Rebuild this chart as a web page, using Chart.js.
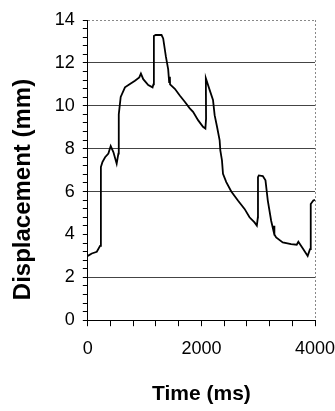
<!DOCTYPE html>
<html lang="en">
<head>
    <meta charset="UTF-8">
    <title>Displacement vs Time</title>
    <script src="https://cdn.jsdelivr.net/npm/chart.js"></script>
    <style>
        html, body {
            margin: 0;
            padding: 0;
            background: #fff;
        }
        #wrap {
            width: 335px;
            height: 411px;
        }
    </style>
</head>
<body>
    <div id="wrap">
        <canvas id="dispChart" width="335" height="411"></canvas>
    </div>

    <script>
        // Trace (ms, mm)
        const timeMs = [0, 70, 158, 216, 228, 232, 257, 304, 362, 403,
            450, 508, 538, 545, 579, 654, 742, 830, 906, 935,
            976, 1064, 1140, 1155, 1163, 1193, 1298, 1327, 1374, 1415,
            1432, 1445, 1448, 1532, 1619, 1707, 1795, 1853, 1941, 2028,
            2070, 2082, 2078, 2146, 2204, 2233, 2275, 2321, 2333, 2362,
            2380, 2438, 2526, 2643, 2760, 2847, 2935, 2976, 2994, 2996,
            3011, 3081, 3128, 3169, 3228, 3269, 3280, 3285, 3316, 3432,
            3579, 3678, 3707, 3783, 3871, 3912, 3925, 3970, 4000];
        const displacementMm = [3.0, 3.11, 3.19, 3.47, 3.86, 7.14, 7.37, 7.6, 7.77, 8.12,
            7.84, 7.3, 7.77, 9.6, 10.41, 10.86, 11.02, 11.17, 11.32, 11.5,
            11.24, 10.97, 10.86, 11.0, 13.25, 13.3, 13.3, 13.14, 12.3, 11.7,
            11.1, 11.35, 11.0, 10.79, 10.48, 10.19, 9.88, 9.72, 9.33, 9.02,
            8.94, 9.4, 11.28, 10.73, 10.27, 9.56, 9.02, 8.39, 7.92, 7.45,
            6.83, 6.44, 6.0, 5.58, 5.19, 4.8, 4.56, 4.41, 4.8, 6.67,
            6.75, 6.72, 6.52, 5.58, 4.64, 4.17, 4.4, 4.0, 3.86, 3.63,
            3.55, 3.52, 3.66, 3.36, 3.0, 3.31, 5.42, 5.58, 5.61];

        // Axis ticks
        const xLabelTicks = [0, 2000, 4000];
        const yLabelTicks = [0, 2, 4, 6, 8, 10, 12, 14];
        const yGridLines = [2, 6, 8, 10, 12];   // the 4 mm line is absent in the original

        const fontFamily = 'Arial, "Liberation Sans", sans-serif';
        const near = (a, b) => Math.abs(a - b) < 1e-6;

        const points = timeMs.map((t, i) => ({ x: t, y: displacementMm[i] }));

        const ctx = document.getElementById('dispChart').getContext('2d');
        new Chart(ctx, {
            type: 'scatter',
            data: {
                datasets: [{
                    data: points,
                    showLine: true,
                    borderColor: '#000',
                    borderWidth: 1.8,
                    pointRadius: 0,
                    tension: 0,
                    fill: false
                }]
            },
            options: {
                responsive: false,
                animation: false,
                layout: {
                    padding: { top: 20, right: 0, bottom: 2, left: 0 }
                },
                plugins: {
                    legend: { display: false },
                    tooltip: { enabled: false }
                },
                scales: {
                    x: {
                        type: 'linear',
                        min: 0,
                        max: 4000,
                        // only leave room for half of "4000", not the tick padding too
                        afterFit: scale => { scale.paddingRight = 20; },
                        ticks: {
                            stepSize: 400,
                            autoSkip: false,
                            maxRotation: 0,
                            padding: 12,
                            color: '#000',
                            font: { family: fontFamily, size: 18 },
                            callback: v => xLabelTicks.some(t => near(t, v)) ? String(v) : ''
                        },
                        grid: {
                            color: c => near(c.tick.value, 4000) ? '#888' : 'rgba(0,0,0,0)',
                            tickColor: '#000',
                            tickLength: 6,
                            lineWidth: 1
                        },
                        border: {
                            color: '#000',
                            width: 1,
                            dash: c => near(c.tick && c.tick.value, 4000) ? [2, 2] : []
                        },
                        title: {
                            display: true,
                            text: 'Time (ms)',
                            color: '#000',
                            font: { family: fontFamily, size: 21, weight: 'bold' },
                            padding: { top: 10, bottom: 2 }
                        }
                    },
                    y: {
                        type: 'linear',
                        min: 0,
                        max: 14,
                        ticks: {
                            stepSize: 0.4,
                            autoSkip: false,
                            padding: 8,
                            color: '#000',
                            font: { family: fontFamily, size: 18 },
                            callback: v => yLabelTicks.some(t => near(t, v)) ? String(Math.round(v)) : ''
                        },
                        grid: {
                            color: c => {
                                const v = c.tick.value;
                                if (near(v, 14)) return '#888';
                                return yGridLines.some(g => near(g, v)) ? '#444' : 'rgba(0,0,0,0)';
                            },
                            tickColor: '#000',
                            tickLength: 5,
                            lineWidth: 1
                        },
                        border: {
                            color: '#000',
                            width: 1,
                            dash: c => near(c.tick && c.tick.value, 14) ? [2, 2] : []
                        },
                        title: {
                            display: true,
                            text: '   Displacement (mm)',
                            align: 'start',
                            color: '#000',
                            font: { family: fontFamily, size: 24, weight: 'bold' },
                            padding: { top: 9, bottom: 9 }
                        }
                    }
                }
            }
        });
    </script>
</body>
</html>
